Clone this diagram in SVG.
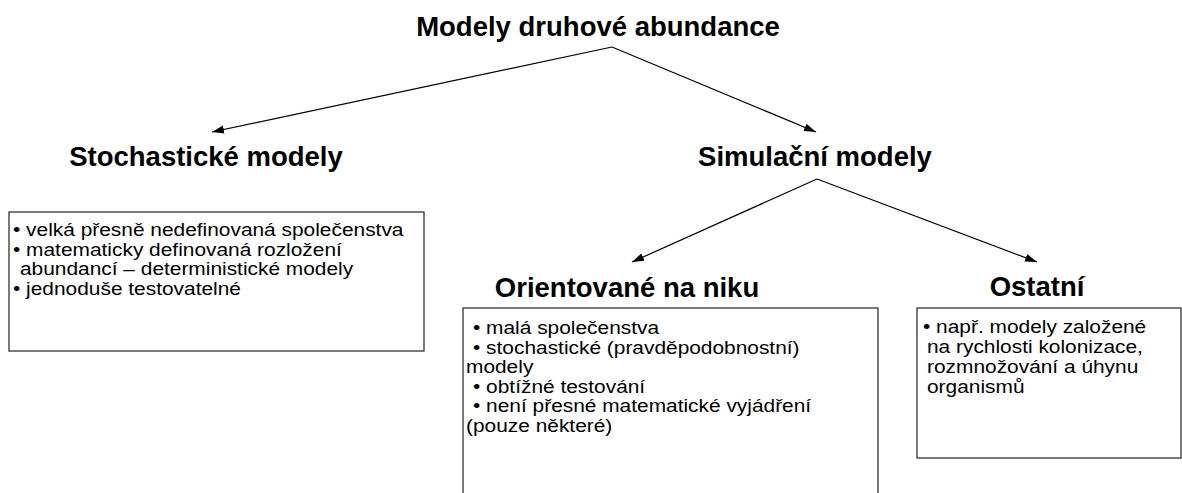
<svg xmlns="http://www.w3.org/2000/svg" width="1182" height="493" viewBox="0 0 1182 493">
<defs>
<marker id="ah" viewBox="0 0 12 10" refX="12" refY="5" markerWidth="12" markerHeight="10" markerUnits="userSpaceOnUse" orient="auto">
<path d="M0,1 L12,5 L0,9 Z" fill="#000"/>
</marker>
<style>
.h{font-family:"Liberation Sans",Arial,sans-serif;font-weight:bold;font-size:27.5px;fill:#000}
.t{font-family:"Liberation Sans",Arial,sans-serif;font-size:18.5px;fill:#000}
.box{fill:#fff;stroke:#333;stroke-width:1.3}
.c{stroke:#000;stroke-width:1.2;fill:none;marker-end:url(#ah)}
</style>
</defs>
<rect width="1182" height="493" fill="#fff"/>
<g id="connectors">
<line class="c" x1="612" y1="47" x2="212" y2="132"/>
<line class="c" x1="612" y1="47" x2="816" y2="132"/>
<line class="c" x1="817" y1="179" x2="632" y2="262"/>
<line class="c" x1="817" y1="179" x2="1037" y2="262"/>
</g>
<g id="root"><text class="h" x="598" y="36" text-anchor="middle">Modely druhové abundance</text></g>
<g id="stochasticke">
<text class="h" x="206" y="166" text-anchor="middle">Stochastické modely</text>
<rect class="box" x="9" y="212" width="415" height="139"/>
<text class="t" transform="translate(13,236) scale(1.13,1)">• velká přesně nedefinovaná společenstva</text>
<text class="t" transform="translate(13,256) scale(1.13,1)">• matematicky definovaná rozložení</text>
<text class="t" transform="translate(20,275) scale(1.13,1)">abundancí – deterministické modely</text>
<text class="t" transform="translate(13,295) scale(1.13,1)">• jednoduše testovatelné</text>
</g>
<g id="simulacni"><text class="h" x="815" y="166" text-anchor="middle">Simulační modely</text></g>
<g id="orientovane">
<text class="h" x="627" y="297" text-anchor="middle">Orientované na niku</text>
<rect class="box" x="463" y="308" width="415" height="200"/>
<text class="t" transform="translate(473,334) scale(1.13,1)">• malá společenstva</text>
<text class="t" transform="translate(473,354) scale(1.13,1)">• stochastické (pravděpodobnostní)</text>
<text class="t" transform="translate(466,373) scale(1.13,1)">modely</text>
<text class="t" transform="translate(473,393) scale(1.13,1)">• obtížné testování</text>
<text class="t" transform="translate(473,412) scale(1.13,1)">• není přesné matematické vyjádření</text>
<text class="t" transform="translate(466,432) scale(1.13,1)">(pouze některé)</text>
</g>
<g id="ostatni">
<text class="h" x="1037" y="296" text-anchor="middle">Ostatní</text>
<rect class="box" x="917" y="308" width="264" height="150"/>
<text class="t" transform="translate(923,333) scale(1.13,1)">• např. modely založené</text>
<text class="t" transform="translate(927,353) scale(1.13,1)">na rychlosti kolonizace,</text>
<text class="t" transform="translate(927,373) scale(1.13,1)">rozmnožování a úhynu</text>
<text class="t" transform="translate(927,393) scale(1.13,1)">organismů</text>
</g>
</svg>
